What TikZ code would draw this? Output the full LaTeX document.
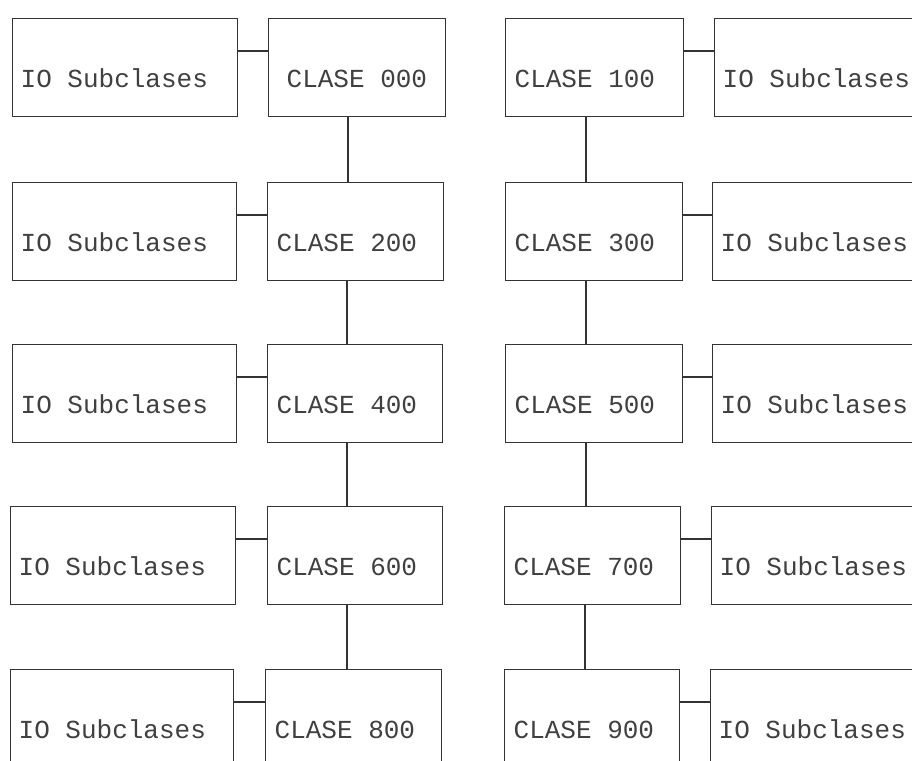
\documentclass[tikz,border=0pt]{standalone}
\usepackage{fontspec}
\newfontfamily\dotfont{Liberation Mono}
\definecolor{ink}{gray}{0.2}
\definecolor{txt}{gray}{0.25}
\tikzset{
  box/.style={draw=ink, line width=1.3pt, rectangle, anchor=north west,
    inner ysep=0pt, text height=69pt, text depth=29pt, align=left,
    font=\dotfont\fontsize{26}{28}\selectfont, text=txt},
  link/.style={draw=ink, line width=1.3pt}
}
\newcommand\clsbox[6]{\pgfmathsetmacro\cbw{#4-#2-2*#5}%
  \node[box, text width=\cbw pt, inner xsep=#5pt] (#1) at (#2,#3)
    {\spaceskip=0pt\xspaceskip=0pt\relax #6};}
\begin{document}
\begin{tikzpicture}[x=1pt,y=-1pt]
\useasboundingbox (0,0) rectangle (912,760);
\fill[white] (0,0) rectangle (912,760);
\clip (0,0) rectangle (912,760);
% row 1
\clsbox{s0}{12}{18}{237}{8}{IO Subclases}
\clsbox{c0}{268}{18}{445}{18}{CLASE 000}
\clsbox{c1}{505}{18}{683}{9}{CLASE 100}
\clsbox{s1}{714}{18}{940}{8}{IO Subclases}
% row 2
\clsbox{s2}{12}{182}{236}{8}{IO Subclases}
\clsbox{c2}{267}{182}{443}{9}{CLASE 200}
\clsbox{c3}{505}{182}{682}{9}{CLASE 300}
\clsbox{s3}{712}{182}{940}{8}{IO Subclases}
% row 3
\clsbox{s4}{12}{344}{236}{8}{IO Subclases}
\clsbox{c4}{267}{344}{442}{9}{CLASE 400}
\clsbox{c5}{505}{344}{682}{9}{CLASE 500}
\clsbox{s5}{712}{344}{940}{8}{IO Subclases}
% row 4
\clsbox{s6}{10}{506}{235}{8}{IO Subclases}
\clsbox{c6}{267}{506}{442}{9}{CLASE 600}
\clsbox{c7}{504}{506}{680}{9}{CLASE 700}
\clsbox{s7}{711}{506}{940}{8}{IO Subclases}
% row 5
\clsbox{s8}{10}{669}{233}{8}{IO Subclases}
\clsbox{c8}{265}{669}{441}{9}{CLASE 800}
\clsbox{c9}{504}{669}{679}{9}{CLASE 900}
\clsbox{s9}{710}{669}{940}{8}{IO Subclases}
% horizontal links
\foreach \a/\b in {s0/c0, c1/s1, s2/c2, c3/s3, s4/c4, c5/s5, s6/c6, c7/s7, s8/c8, c9/s9}
  \draw[link] ([yshift=-33pt]\a.north east) -- ([yshift=-33pt]\a.north east -| \b.west);
% vertical links
\foreach \a/\b in {c0/c2, c2/c4, c4/c6, c6/c8}
  \draw[link] ([xshift=80pt]\a.south west) -- ([xshift=80pt]\a.south west |- \b.north);
\foreach \a/\b in {c1/c3, c3/c5, c5/c7, c7/c9}
  \draw[link] ([xshift=81pt]\a.south west) -- ([xshift=81pt]\a.south west |- \b.north);
\end{tikzpicture}
\end{document}
